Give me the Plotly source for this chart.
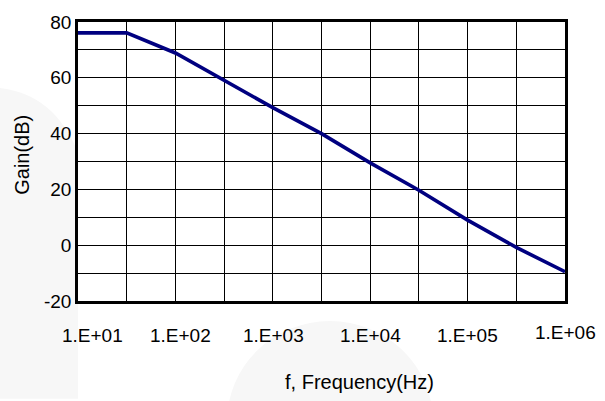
import math
import plotly.graph_objects as go

# ---- data ----
freq_hz = [10, 31.6, 100, 316, 1000, 3162, 10000, 31623, 100000, 316228, 1000000]
gain_db = [76.1, 76.1, 68.9, 59.0, 49.3, 40.0, 29.5, 19.7, 9.0, -0.8, -9.5]

x_tick_vals = [10, 100, 1000, 10000, 100000, 1000000]
x_tick_text = ["1.E+01", "1.E+02", "1.E+03", "1.E+04", "1.E+05", "1.E+06"]
x_grid_vals = [10, 31.6, 100, 316, 1000, 3162, 10000, 31623, 100000, 316228, 1000000]

y_grid_vals = [-20, -10, 0, 10, 20, 30, 40, 50, 60, 70, 80]
y_tick_text = ["-20", "", "0", "", "20", "", "40", "", "60", "", "80"]

x_title = "f, Frequency(Hz)"
y_title = "Gain(dB)"

FONT = "Liberation Sans, Arial, sans-serif"

fig = go.Figure()
fig.add_trace(go.Scatter(
    x=freq_hz, y=gain_db, mode="lines",
    line=dict(color="#000080", width=3.6),
    hoverinfo="skip", showlegend=False,
))

W, H = 605, 401
L, R, T, B = 78, 40, 16, 100

fig.update_layout(
    width=W, height=H,
    margin=dict(l=L, r=R, t=T, b=B, pad=0),
    paper_bgcolor="white", plot_bgcolor="white",
    font=dict(family=FONT, size=19, color="black"),
    showlegend=False,
)

fig.update_xaxes(
    type="log", range=[1, 6],
    tickvals=x_grid_vals, showticklabels=False,
    showgrid=True, gridcolor="black", gridwidth=1,
    showline=True, linecolor="black", linewidth=2.5, mirror=True,
    zeroline=False, ticks="",
)
fig.update_yaxes(
    range=[-20, 80],
    tickvals=y_grid_vals, ticktext=y_tick_text,
    showgrid=True, gridcolor="black", gridwidth=1,
    showline=True, linecolor="black", linewidth=2.5, mirror=True,
    zeroline=False, ticks="", ticklabelstandoff=0,
    tickfont=dict(family=FONT, size=19, color="black"),
)

# x tick labels as annotations (irregular placement in the reference)
xshifts = [14, 5, 1, 0, 0, 0]
yshifts = [0, 0, 0, 0, 0, 3]
for v, t, xs, ys in zip(x_tick_vals, x_tick_text, xshifts, yshifts):
    fig.add_annotation(
        x=math.log10(v), xref="x", y=-0.123, yref="paper",
        text=t, showarrow=False, xanchor="center", yanchor="middle",
        xshift=xs, yshift=ys,
        font=dict(family=FONT, size=19, color="black"),
    )

# axis titles
fig.add_annotation(
    x=0.578, y=-0.292, xref="paper", yref="paper",
    text=x_title, showarrow=False, xanchor="center", yanchor="middle",
    font=dict(family=FONT, size=20, color="black"),
)
fig.add_annotation(
    x=-0.115, y=0.524, xref="paper", yref="paper",
    text=y_title, showarrow=False, textangle=-90,
    xanchor="center", yanchor="middle",
    font=dict(family=FONT, size=20, color="black"),
)

# faint decorative background shapes
fig.add_shape(
    type="path", xref="paper", yref="paper", layer="below",
    path="M -0.17,0.765 Q -0.05,0.75 0,0.531 L 0,-0.35 L -0.17,-0.35 Z",
    fillcolor="#f7f7f7", line=dict(width=0),
)
fig.add_shape(
    type="circle", xref="paper", yref="paper", layer="below",
    x0=0.306, x1=0.729, y0=-0.0718, y1=-0.793,
    fillcolor="#f7f7f7", line=dict(width=0),
)

fig.write_html(
    "out.html",
    config={"displayModeBar": False},
    post_script="document.body.style.margin='0';document.body.style.overflow='hidden';",
)
